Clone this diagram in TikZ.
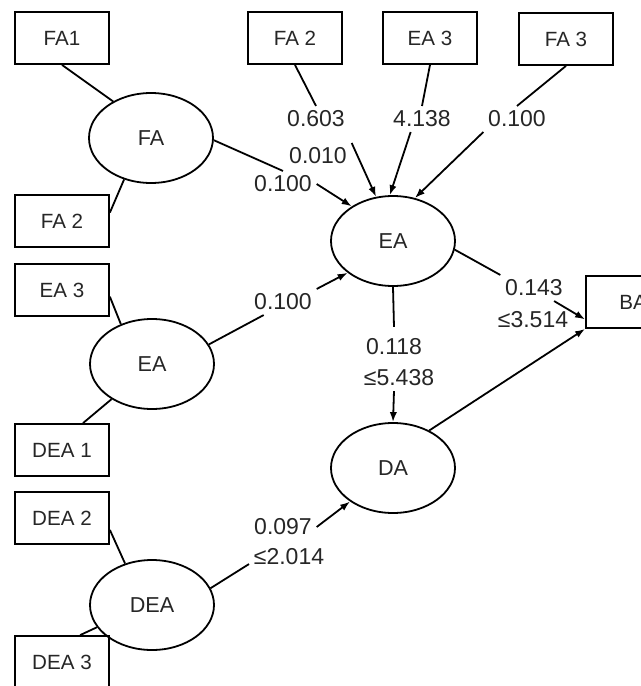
\documentclass[tikz,border=0pt]{standalone}
\usepackage{fontspec}
\setmainfont{Liberation Sans}
\usetikzlibrary{shapes.geometric,arrows.meta}

\tikzset{
  indbox/.style={draw, minimum width=47pt, minimum height=26pt, inner sep=0pt, font=\fontsize{10.3}{12}\selectfont},
  latent/.style={draw, ellipse, minimum width=62pt, minimum height=45pt, inner sep=0pt, font=\fontsize{10.8}{12}\selectfont},
  coef/.style={inner sep=2pt, font=\fontsize{11.5}{13}\selectfont}
}

\begin{document}
\begin{tikzpicture}[x=0.5pt, y=-0.5pt, line width=0.9pt, text=black!85, >={Latex[length=5pt,width=3.6pt]}]
		\useasboundingbox (0,0) rectangle (641,686);
		% indicators
		\node[indbox] (fa1) at (62,38) {FA1};
		\node[indbox] (fa2l) at (62,221) {FA 2};
		\node[indbox] (ea3l) at (62,290) {EA 3};
		\node[indbox] (dea1) at (62,450) {DEA 1};
		\node[indbox] (dea2) at (62,518) {DEA 2};
		\node[indbox] (dea3) at (62,662) {DEA 3};
		\node[indbox] (fa2t) at (295,38) {FA 2};
		\node[indbox] (ea3t) at (430,38) {EA 3};
		\node[indbox] (fa3t) at (566,39) {FA 3};
		\node[indbox] (ba) at (633,302) {BA};
		% latent variables
		\node[latent] (fa) at (151,138) {FA};
		\node[latent] (eal) at (152,364) {EA};
		\node[latent] (dea) at (152,605) {DEA};
		\node[latent] (ear) at (393,241) {EA};
		\node[latent] (da) at (393,468) {DA};
		% coefficients
		\node[coef] (c603) at (316,119) {0.603};
		\node[coef] (c010) at (318,156) {0.010};
		\node[coef] (c100a) at (283,184) {0.100};
		\node[coef] (c4138) at (422,119) {4.138};
		\node[coef] (c100c) at (517,119) {0.100};
		\node[coef] (c100b) at (283,302) {0.100};
		\node[coef] (c143) at (534,288) {0.143};
		\node[coef] (c3514) at (533,320) {≤3.514};
		\node[coef] (c118) at (394,347) {0.118};
		\node[coef] (c5438) at (399,378) {≤5.438};
		\node[coef] (c097) at (283,527) {0.097};
		\node[coef] (c2014) at (289,557) {≤2.014};
		% loadings
		\draw (fa1.south) -- (fa.136);
		\draw (fa2l.10) -- (fa.237);
		\draw (ea3l.-8) -- (eal.128);
		\draw (dea1.52) -- (eal.221);
		\draw (dea2.-14) -- (dea.123);
		\draw (dea3.56) -- (dea.202);
		% paths into EA
		\draw (fa2t.south) -- (c603.north);
		\draw[->] (c010.north east) -- (ear.111);
		\draw (ea3t.south) -- (c4138.north);
		\draw[->] (c4138.229) -- (ear.94);
		\draw (fa3t.south) -- (c100c.north);
		\draw[->] (c100c.south west) -- (ear.63);
		\draw (fa.-2) -- (c100a.north);
		\draw[->] (c100a.east) -- (ear.140);
		\draw (eal.19) -- (c100b.214);
		\draw[->] (c100b.north east) -- (ear.215);
		% paths out of EA and DA
		\draw (ear.-8) -- (c143.north west);
		\draw[->] (c143.-33) -- (ba.200);
		\draw (ear.south) -- ([yshift=3.5pt]c118.north);
		\draw[->] (c118 |- c5438.south) -- (da.north);
		\draw[->] (da.46) -- (ba.south west);
		\draw (dea.16) -- (c2014.190);
		\draw[->] (c097.east) -- (da.218);
	\end{tikzpicture}
\end{document}
